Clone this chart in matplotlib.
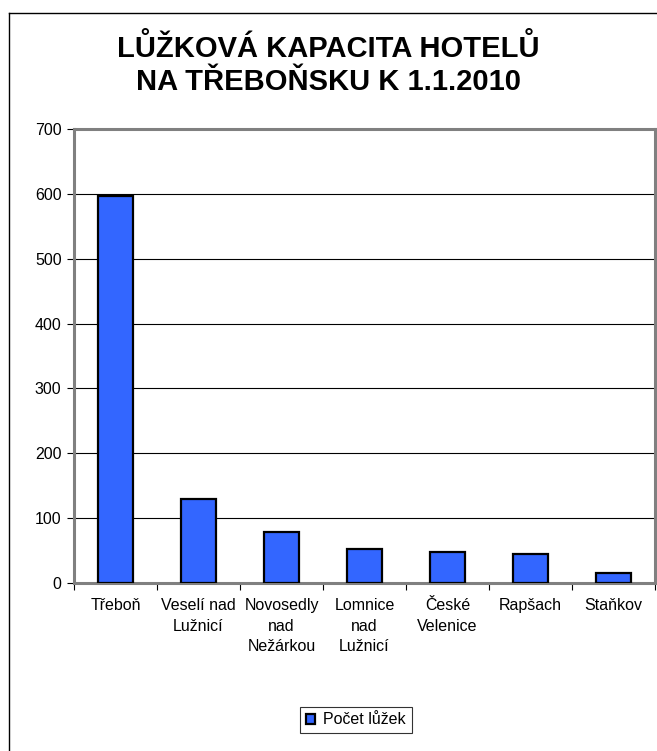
import numpy as np
import matplotlib
matplotlib.use("Agg")
import matplotlib.pyplot as plt
from matplotlib.lines import Line2D

# data
towns = ["Třeboň", "Veselí nad\nLužnicí", "Novosedly\nnad\nNežárkou", "Lomnice\nnad\nLužnicí",
         "České\nVelenice", "Rapšach", "Staňkov"]
beds = [597, 130, 78, 53, 48, 45, 15]
series_name = "Počet lůžek"
title = "LŮŽKOVÁ KAPACITA HOTELŮ\nNA TŘEBOŇSKU K 1.1.2010"
yticks = [0, 100, 200, 300, 400, 500, 600, 700]

plt.rcParams["font.family"] = ["Liberation Sans", "DejaVu Sans"]

fig = plt.figure(figsize=(6.57, 7.51), dpi=100)
W, H = 657, 751
ax = fig.add_axes([74 / W, 1 - 583 / H, (655 - 74) / W, (583 - 129) / H])

x = np.arange(len(towns))
ax.bar(x, beds, width=0.42, color="#3366FF", edgecolor="black", linewidth=1.6,
       label=series_name, zorder=3)

ax.set_xlim(-0.5, len(towns) - 0.5)
ax.set_ylim(0, 700)
ax.set_yticks(yticks)
ax.tick_params(axis="y", labelsize=11.5, length=5, width=0.8, color="black", pad=4)
ax.yaxis.grid(True, color="black", linewidth=0.8, zorder=0)

# category boundary ticks, labels centered between them
ax.set_xticks(np.arange(-0.5, len(towns), 1.0))
ax.set_xticklabels([])
ax.set_xticks(x, minor=True)
ax.set_xticklabels(towns, minor=True, fontsize=11.5, linespacing=1.45, va="top")
ax.tick_params(axis="x", which="major", length=5, width=0.8, color="black")
ax.tick_params(axis="x", which="minor", length=0, pad=11)

for s in ax.spines.values():
    s.set_color("#808080")
    s.set_linewidth(2.2)

fig.text(0.5, 1 - 65 / H, title, ha="center", va="center", fontsize=21,
         fontweight="bold", linespacing=1.2)

leg = fig.legend(loc="center", bbox_to_anchor=(356 / W, 1 - 720 / H), fontsize=11.5,
                 frameon=True, fancybox=False, edgecolor="black", handlelength=0.6,
                 handleheight=0.6, handletextpad=0.5, borderpad=0.35)
leg.get_frame().set_linewidth(0.8)

# outer chart frame (left and top edges visible)
fig.add_artist(Line2D([9 / W, 9 / W], [0, 1 - 13 / H], transform=fig.transFigure,
                      color="black", linewidth=1.0))
fig.add_artist(Line2D([9 / W, 1], [1 - 13 / H, 1 - 13 / H], transform=fig.transFigure,
                      color="black", linewidth=1.0))

fig.savefig("out.png", dpi=100)
